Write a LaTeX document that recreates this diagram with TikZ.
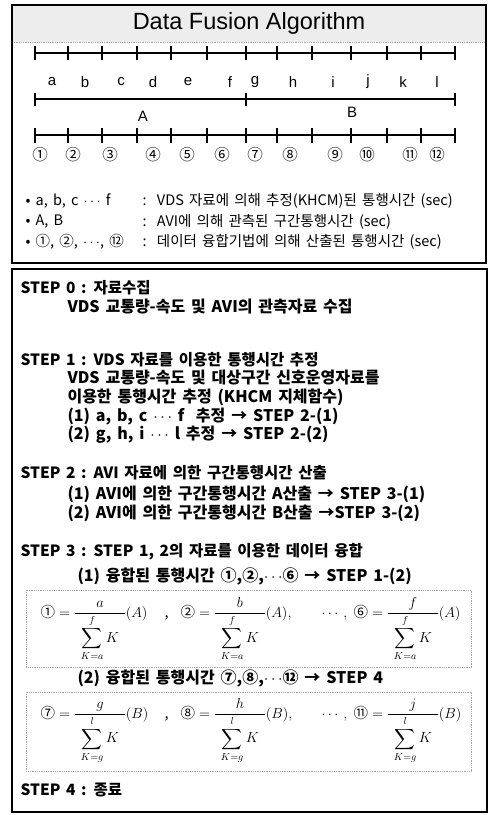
\documentclass[tikz,border=0pt]{standalone}
\usepackage{fix-cm}
\usepackage{amsmath}
\usepackage[no-math]{fontspec}
\setmainfont{Noto Sans CJK KR}
\newfontfamily\latinsans{Liberation Sans}
\newfontfamily\stepfont[WordSpace=2]{Noto Sans CJK KR}
\newfontfamily\substepfont[WordSpace=2.6]{Noto Sans CJK KR}
\newfontfamily\legfont[WordSpace=1.6]{Noto Sans CJK KR}
\usetikzlibrary{positioning}

\newcommand{\fusefrac}[3]{\dfrac{#1}{\makebox[3.4em]{$\displaystyle\sum_{K=#2}^{#3}K$}}}

\begin{document}
\begin{tikzpicture}[x=1pt,y=-1pt,
  rulerline/.style={line width=1.1pt},
  letterlbl/.style={font=\latinsans\fontsize{15}{18}\selectfont},
  circlbl/.style={font=\fontsize{15.5}{18}\selectfont},
  legtxt/.style={anchor=west,font=\legfont\fontsize{14.5}{17}\selectfont},
  steptxt/.style={anchor=west,font=\stepfont\bfseries\fontsize{15.5}{18}\selectfont},
  substeptxt/.style={anchor=west,font=\substepfont\bfseries\fontsize{16}{18}\selectfont},
  formbox/.style={gray!70,densely dotted,line width=0.8pt},
  formtxt/.style={anchor=base west,font=\fontsize{14.5}{17}\selectfont}]

\useasboundingbox (0,0) rectangle (488,815);

%title
\fill[gray!14] (12,5) rectangle (486,42);% band
\draw[gray!70,densely dotted,line width=0.8pt] (12,42) -- (486,42);
\draw[line width=1.5pt] (12,5) rectangle (486,263);% top box
\node[font=\latinsans\fontsize{23.5}{27}\selectfont] (title) at (249,23) {Data Fusion Algorithm};

%ruler a..l
\draw[rulerline] (35,53) -- (455,53);
\foreach \x in {35,68,102,137,171,207,246,277,312,351,387,421,455}
  \draw[rulerline] (\x,46) -- (\x,60);
\foreach \x/\t in {52/a,85/b,121/c,153/d,188/e,230/f,255/g,293/h,333/i,368/j,403/k,437/l}
  \node[letterlbl] (lbl-\t) at (\x,82) {\t};

%ruler A, B
\draw[rulerline] (35,99) -- (455,99);
\foreach \x in {35,246,455}
  \draw[rulerline] (\x,93) -- (\x,106);
\node[letterlbl] (lbl-A) at (143,116) {A};
\node[letterlbl] (lbl-B) at (352,112) {B};

%ruler 1..12
\draw[line width=1.6pt] (35,135) -- (455,135);
\foreach \x in {35,68,102,137,171,207,246,277,312,351,387,421,455}
  \draw[rulerline] (\x,128) -- (\x,143);
\foreach \x/\t [count=\i] in {40/①,73/②,110/③,153/④,187/⑤,222/⑥,255/⑦,290/⑧,335/⑨,367/⑩,410/⑪,437/⑫}
  \node[circlbl] (num-\i) at (\x,155) {\t};

%legend
\node[legtxt] (leg-1) at (22,201) {• a, b, c \(\cdots\) f};
\node[legtxt] (leg-1t) at (139,201) {:\ \ VDS 자료에 의해 추정(KHCM)된 통행시간 (sec)};
\node[legtxt] (leg-2) at (22,222) {• A, B};
\node[legtxt] (leg-2t) at (139,222) {:\ \ AVI에 의해 관측된 구간통행시간 (sec)};
\node[legtxt] (leg-3) at (22,242) {• ①, ②, \(\cdots\), ⑫};
\node[legtxt] (leg-3t) at (139,242) {:\ \ 데이터 융합기법에 의해 산출된 통행시간 (sec)};

%steps
\draw[line width=1.8pt] (12,269) rectangle (487,812);% step box
\node[steptxt] (step0) at (17,288) {STEP 0 : 자료수집};
\node[substeptxt] (step0a) at (64,307) {VDS 교통량-속도 및 AVI의 관측자료 수집};
\node[steptxt] (step1) at (17,360) {STEP 1 : VDS 자료를 이용한 통행시간 추정};
\node[substeptxt] (step1a) at (64,378) {VDS 교통량-속도 및 대상구간 신호운영자료를};
\node[substeptxt] (step1b) at (64,397) {이용한 통행시간 추정 (KHCM 지체함수)};
\node[substeptxt] (step1c) at (64,417) {(1) a, b, c \(\cdots\) f\ \ 추정 → STEP 2-(1)};
\node[substeptxt] (step1d) at (64,435) {(2) g, h, i \(\cdots\) l 추정 → STEP 2-(2)};
\node[steptxt] (step2) at (17,473) {STEP 2 : AVI 자료에 의한 구간통행시간 산출};
\node[substeptxt] (step2a) at (64,494) {(1) AVI에 의한 구간통행시간 A산출 → STEP 3-(1)};
\node[substeptxt] (step2b) at (64,513) {(2) AVI에 의한 구간통행시간 B산출 →STEP 3-(2)};
\node[steptxt] (step3) at (17,552) {STEP 3 : STEP 1, 2의 자료를 이용한 데이터 융합};
\node[substeptxt] (step3a) at (74,576) {(1) 융합된 통행시간 ①,②,\(\cdots\)⑥ → STEP 1-(2)};
\node[substeptxt] (step3b) at (74,678) {(2) 융합된 통행시간 ⑦,⑧,\(\cdots\)⑫ → STEP 4};
\node[steptxt] (step4) at (17,790) {STEP 4 : 종료};

%formulas A
\draw[formbox] (26,590) rectangle (471,667);
\node[formtxt] (fa1) at (37,617) {\(\text{①}=\fusefrac{a}{a}{f}(A)\)};
\node[formtxt] (fa-c) at (161,617) {,};
\node[formtxt] (fa2) at (177,617) {\(\text{②}=\fusefrac{b}{a}{f}(A),\)};
\node[formtxt] (fa-d) at (318,617) {\(\cdots,\)};
\node[formtxt] (fa3) at (350,617) {\(\text{⑥}=\fusefrac{f}{a}{f}(A)\)};

%formulas B
\draw[formbox] (26,692) rectangle (471,771);
\node[formtxt] (fb1) at (37,718) {\(\text{⑦}=\fusefrac{g}{g}{l}(B)\)};
\node[formtxt] (fb-c) at (161,718) {,};
\node[formtxt] (fb2) at (177,718) {\(\text{⑧}=\fusefrac{h}{g}{l}(B),\)};
\node[formtxt] (fb-d) at (318,718) {\(\cdots,\)};
\node[formtxt] (fb3) at (350,718) {\(\text{⑪}=\fusefrac{j}{g}{l}(B)\)};

\end{tikzpicture}
\end{document}
